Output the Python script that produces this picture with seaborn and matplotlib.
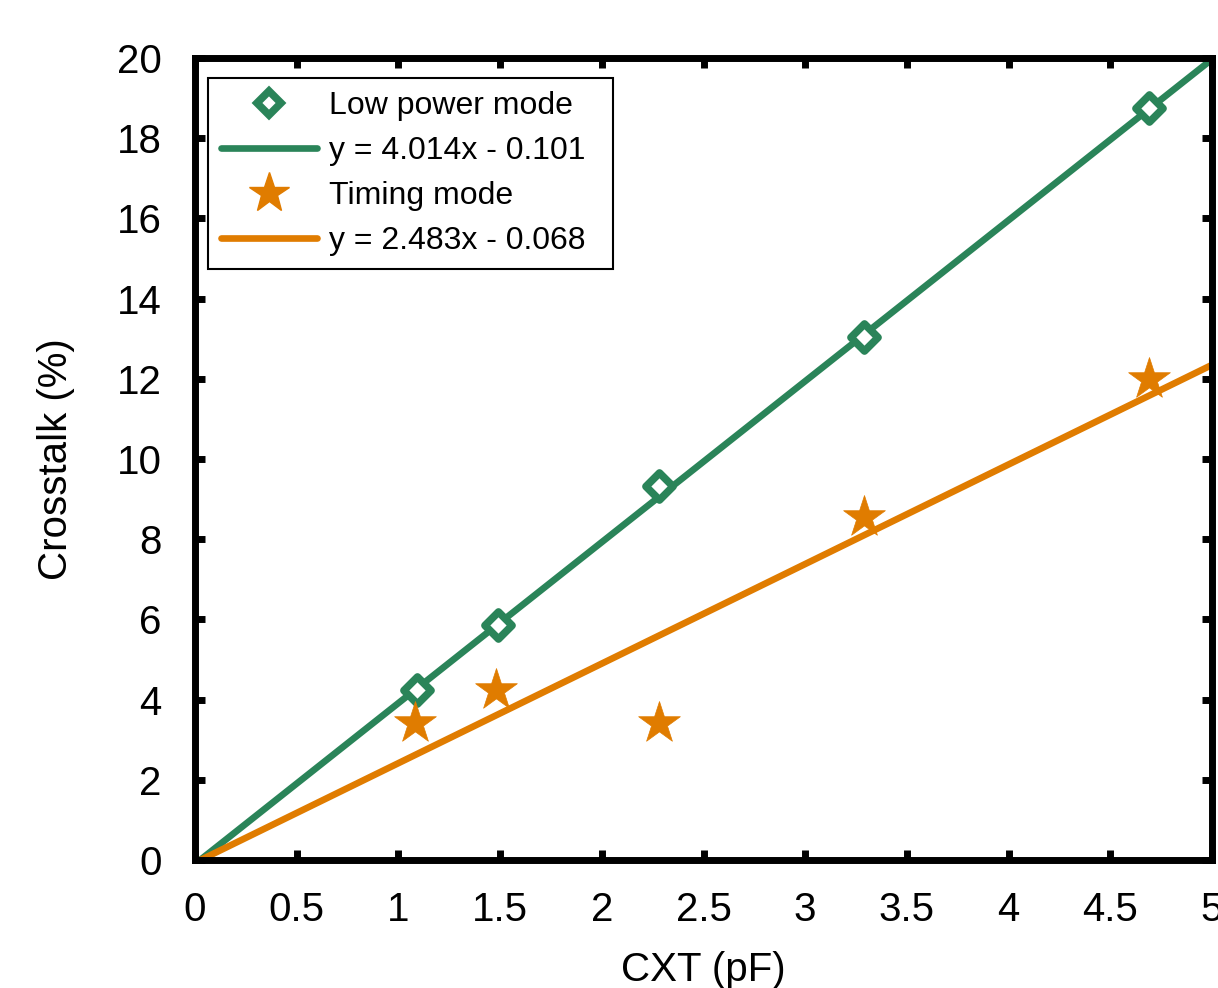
import matplotlib
matplotlib.use("Agg")
import matplotlib.pyplot as plt
import seaborn as sns
import pandas as pd
import numpy as np
from matplotlib.lines import Line2D

# Data
cxt_low = [1.09, 1.49, 2.28, 3.29, 4.69]
xt_low = [4.24, 5.86, 9.33, 13.04, 18.75]
cxt_timing = [1.08, 1.48, 2.28, 3.29, 4.69]
xt_timing = [3.42, 4.24, 3.42, 8.55, 12.0]
fit_low = (4.014, -0.101)
fit_timing = (2.483, -0.068)
fit_x = [0.0, 5.0]
x_ticks = [0, 0.5, 1, 1.5, 2, 2.5, 3, 3.5, 4, 4.5, 5]
x_tick_labels = ["0", "0.5", "1", "1.5", "2", "2.5", "3", "3.5", "4", "4.5", "5"]
y_ticks = [0, 2, 4, 6, 8, 10, 12, 14, 16, 18, 20]

green = "#2a8459"
orange = "#e07c00"

sns.set_theme(style="white")
plt.rcParams["font.family"] = ["Liberation Sans", "DejaVu Sans"]
plt.rcParams["text.color"] = "black"
plt.rcParams["axes.labelcolor"] = "black"

fig = plt.figure(figsize=(12.18, 9.88), dpi=100)
ax = fig.add_axes([195 / 1218, 128 / 988, (1212 - 195) / 1218, (860 - 58) / 988])

df_low = pd.DataFrame({"x": cxt_low, "y": xt_low})
df_tim = pd.DataFrame({"x": cxt_timing, "y": xt_timing})
fl = pd.DataFrame({"x": fit_x, "y": [fit_low[0] * v + fit_low[1] for v in fit_x]})
ft = pd.DataFrame({"x": fit_x, "y": [fit_timing[0] * v + fit_timing[1] for v in fit_x]})

sns.lineplot(data=fl, x="x", y="y", ax=ax, color=green, lw=4.8, zorder=2)
sns.lineplot(data=ft, x="x", y="y", ax=ax, color=orange, lw=4.8, zorder=2)
sns.scatterplot(data=df_low, x="x", y="y", ax=ax, marker="D", s=190,
                facecolor="white", edgecolor=green, linewidth=5.5, zorder=3)
sns.scatterplot(data=df_tim, x="x", y="y", ax=ax, marker="*", s=1000,
                color=orange, edgecolor=orange, linewidth=0.5, zorder=3)

ax.set_xlim(0, 5)
ax.set_ylim(0, 20)
ax.set_xticks(x_ticks)
ax.set_xticklabels(x_tick_labels)
ax.set_yticks(y_ticks)
ax.set_yticklabels([str(v) for v in y_ticks])

for s in ax.spines.values():
    s.set_linewidth(5)
    s.set_color("black")
    s.set_visible(True)

ax.tick_params(axis="both", which="major", direction="in", length=7, width=5,
               top=True, right=True, bottom=True, left=True,
               labelsize=29, colors="black")
ax.tick_params(axis="x", pad=22)
ax.tick_params(axis="y", pad=24)

ax.set_xlabel("CXT (pF)", fontsize=29, labelpad=16)
ax.set_ylabel("Crosstalk (%)", fontsize=29, labelpad=30)

handles = [
    Line2D([], [], ls="none", marker="D", ms=12, mfc="white", mec=green, mew=5.5),
    Line2D([], [], color=green, lw=4.8),
    Line2D([], [], ls="none", marker="*", ms=30, color=orange),
    Line2D([], [], color=orange, lw=4.8),
]
labels = ["Low power mode", "y = 4.014x - 0.101", "Timing mode", "y = 2.483x - 0.068"]
leg = ax.legend(handles, labels, loc="upper left",
                bbox_to_anchor=(0.0128, 0.975, 0.398, 0), mode="expand",
                fontsize=23, frameon=True, fancybox=False, edgecolor="black",
                framealpha=1, handlelength=3.0, handletextpad=0.4,
                labelspacing=0.47, borderpad=0.4, borderaxespad=0)
leg.get_frame().set_linewidth(1.5)
for t in leg.get_texts():
    t.set_color("black")

fig.savefig("out.png", dpi=100)
